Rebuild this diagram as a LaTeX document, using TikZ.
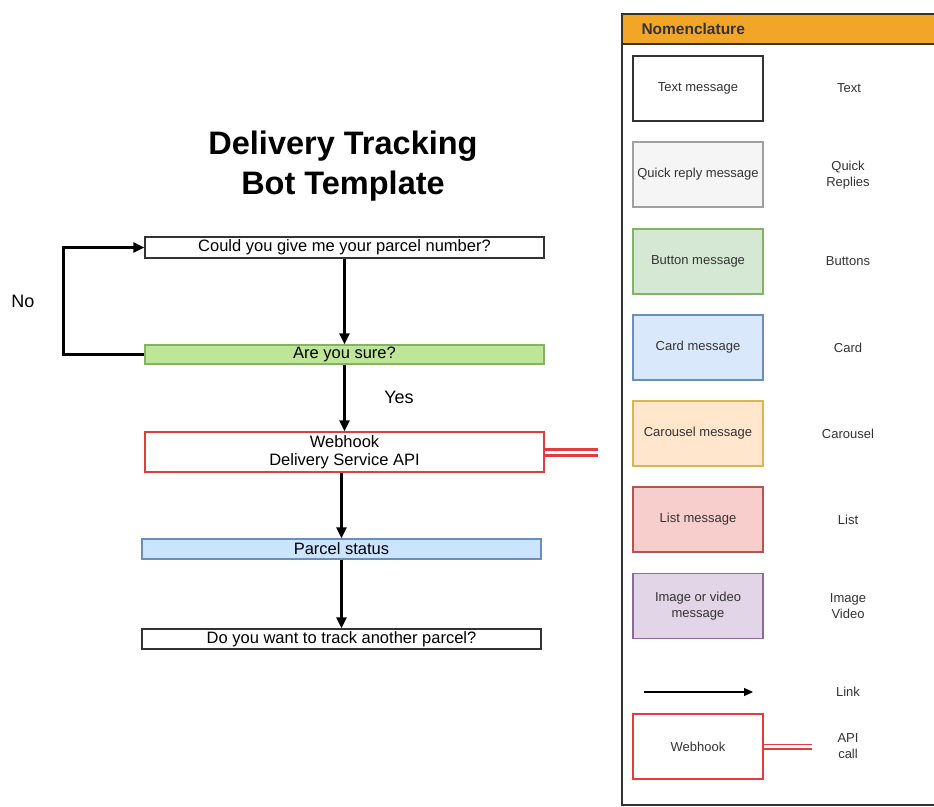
\documentclass[tikz,border=0pt]{standalone}
\usepackage{fontspec}
\setmainfont{Liberation Sans}
\usetikzlibrary{arrows.meta}
\definecolor{hdrorange}{RGB}{242,166,40}
\definecolor{txtgray}{RGB}{51,51,51}
\definecolor{qrfill}{RGB}{245,245,245}
\definecolor{qrline}{RGB}{160,160,160}
\definecolor{btnfill}{RGB}{213,232,212}
\definecolor{btnline}{RGB}{130,179,102}
\definecolor{surefill}{RGB}{190,230,150}
\definecolor{cardfill}{RGB}{218,232,252}
\definecolor{cardline}{RGB}{108,142,191}
\definecolor{statfill}{RGB}{204,229,255}
\definecolor{carfill}{RGB}{255,230,204}
\definecolor{carline}{RGB}{214,182,86}
\definecolor{listfill}{RGB}{248,206,204}
\definecolor{listline}{RGB}{184,84,80}
\definecolor{imgfill}{RGB}{225,213,231}
\definecolor{imgline}{RGB}{140,105,158}
\definecolor{hookred}{RGB}{228,60,60}
\tikzset{
  flowbox/.style={draw=txtgray, line width=1.2pt, minimum width=399pt, inner sep=0pt, font=\fontsize{16.5}{18}\selectfont},
  legbox/.style={line width=1.2pt, minimum width=130pt, minimum height=65pt, inner sep=2pt, align=center, text=txtgray, font=\fontsize{13}{16}\selectfont},
  leglabel/.style={align=center, text=txtgray, font=\fontsize{13}{16}\selectfont},
  flow/.style={line width=2.4pt, -{Triangle[length=11pt,width=10pt]}},
  apicall/.style={draw=hookred, line width=3pt}
}

\begin{document}
\begin{tikzpicture}[x=1pt, y=-1pt]
			%%%%% START %%%%%
			\clip (0,0) rectangle (934,806);
			\fill[white] (0,0) rectangle (934,806);
			
			\node[font=\fontsize{32.5}{40}\selectfont\bfseries, align=center] (title) at (343,166) {Delivery Tracking\\Bot Template};
			
			\node[flowbox, minimum height=21pt, fill=white] (parcelno) at (344.5,247.5) {Could you give me your parcel number?};
			\node[flowbox, minimum height=19pt, fill=surefill, draw=btnline] (sure) at (344.5,354.5) {Are you sure?};
			\node[flowbox, minimum height=40pt, fill=white, draw=hookred, align=center] (hook) at (344.5,452) {Webhook\\Delivery Service API};
			\node[flowbox, minimum height=20pt, fill=statfill, draw=cardline] (status) at (341.5,549) {Parcel status};
			\node[flowbox, minimum height=20pt, fill=white] (another) at (341.5,639) {Do you want to track another parcel?};
			
			\coordinate (hookend) at (598,452);
			\draw[apicall] ([yshift=3pt]hook.east) -- ([yshift=3pt]hookend);
			\draw[apicall] ([yshift=-3pt]hook.east) -- ([yshift=-3pt]hookend);
			
			\draw[flow] (parcelno.south) -- (sure.north);
			\draw[flow] (sure.south) -- (hook.north);
			\draw[flow] (status.north |- hook.south) -- (status.north);
			\draw[flow] (status.south) -- (another.north);
			\draw[flow] (sure.west) -- ++(-81,0) |- (parcelno.west);
			
			\node[font=\fontsize{18}{20}\selectfont] (no) at (23,301) {No};
			\node[font=\fontsize{18}{20}\selectfont] (yes) at (399,397) {Yes};
			
			% nomenclature panel
			\draw[fill=white, draw=txtgray, line width=1.4pt] (622,14) rectangle (940,805);
			\draw[fill=hdrorange, draw=txtgray, line width=1.4pt] (622,14) rectangle (940,44);
			\node[anchor=west, text=txtgray, font=\fontsize{15.5}{17}\selectfont\bfseries] (nomen) at (638,29) {Nomenclature};
			
			\node[legbox, draw=txtgray, fill=white] (textmsg) at (698,88.5) {Text message};
			\node[leglabel] (textlbl) at (849,88.5) {Text};
			
			\node[legbox, draw=qrline, fill=qrfill] (quickmsg) at (698,174.5) {Quick reply message};
			\node[leglabel] (quicklbl) at (848,175) {Quick\\Replies};
			
			\node[legbox, draw=btnline, fill=btnfill] (btnmsg) at (698,261.5) {Button message};
			\node[leglabel] (btnlbl) at (848,261.5) {Buttons};
			
			\node[legbox, draw=cardline, fill=cardfill] (cardmsg) at (698,347.5) {Card message};
			\node[leglabel] (cardlbl) at (848,347.5) {Card};
			
			\node[legbox, draw=carline, fill=carfill] (carmsg) at (698,433.5) {Carousel message};
			\node[leglabel] (carlbl) at (848,433.5) {Carousel};
			
			\node[legbox, draw=listline, fill=listfill] (listmsg) at (698,519.5) {List message};
			\node[leglabel] (listlbl) at (848,519.5) {List};
			
			\node[legbox, draw=imgline, fill=imgfill] (imgmsg) at (698,606) {Image or video\\message};
			\node[leglabel] (imglbl) at (848,606) {Image\\Video};
			
			\coordinate (linkA) at (644,692);
			\coordinate (linkB) at (753,692);
			\draw[line width=1.3pt, -{Triangle[length=9pt,width=8pt]}] (linkA) -- (linkB);
			\node[leglabel] (linklbl) at (848,692) {Link};
			
			\node[legbox, draw=hookred, fill=white] (hookmsg) at (698,746.5) {Webhook};
			\coordinate (hookmsgend) at (812,746.5);
			\draw[apicall, line width=1.6pt] ([yshift=2.2pt]hookmsg.east) -- ([yshift=2.2pt]hookmsgend);
			\draw[apicall, line width=1.6pt] ([yshift=-2.2pt]hookmsg.east) -- ([yshift=-2.2pt]hookmsgend);
			\node[leglabel] (apilbl) at (848,746.5) {API\\call};
			%%%%% END %%%%%
		\end{tikzpicture}
\end{document}
